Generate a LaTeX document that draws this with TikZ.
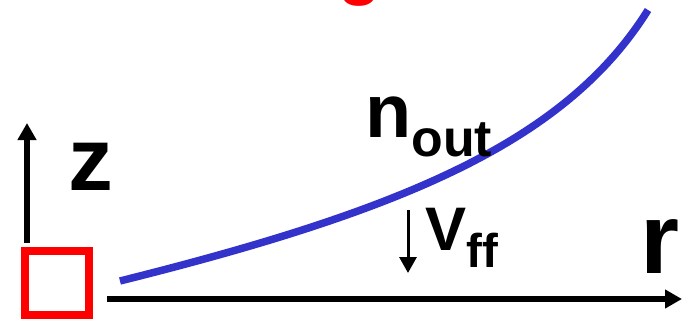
\documentclass[tikz,border=0pt]{standalone}
\usepackage{fontspec}
\setmainfont{Liberation Sans}
\usepackage{xcolor}
\usepackage{tikz}
\usetikzlibrary{positioning,calc}
\usetikzlibrary{arrows.meta}

\definecolor{curveblue}{RGB}{51,51,204}
\tikzset{
  axis/.style={black, line width=0.12cm, -{Triangle[length=0.34cm,width=0.36cm]}},
  flow/.style={black, line width=0.06cm, -{Triangle[length=0.32cm,width=0.34cm]}},
  biglabel/.style={inner sep=0pt, font=\bfseries},
}

\begin{document}
\begin{tikzpicture}
  \useasboundingbox (0,0) rectangle (13.64,6.4);
  % cut-off title above the frame
  \node[biglabel, text=red, anchor=base, font=\bfseries\fontsize{40}{40}\selectfont] (title) at (7.2,6.58) {g};
  % source box
  \node[draw=red, line width=0.16cm, minimum size=1.28cm, inner sep=0pt] (src) at (1.14,0.74) {};
  % axes
  \coordinate (zfoot) at (0.54,1.54);
  \coordinate (ztip) at (0.54,3.94);
  \coordinate (rfoot) at (2.14,0.42);
  \coordinate (rtip) at (13.64,0.42);
  \draw[axis] (zfoot) -- (ztip);
  \draw[axis] (rfoot) -- (rtip);
  \node[biglabel, anchor=base, font=\bfseries\fontsize{51}{51}\selectfont] (zlab) at (1.81,2.6) {z};
  \node[biglabel, anchor=base, font=\bfseries\fontsize{57}{57}\selectfont] (rlab) at (13.19,0.94) {r};
  % outflow boundary
  \coordinate (cstart) at (2.4,0.78);
  \coordinate (cend) at (12.96,6.2);
  \draw[curveblue, line width=0.15cm] (cstart) .. controls (8.0,2.18) and (11.3,3.54) .. (cend);
  \node[biglabel, anchor=base west] (nout) at (7.3,3.66)
    {\fontsize{43}{43}\selectfont n\raisebox{-11.3pt}{\fontsize{29.5}{29.5}\selectfont out}};
  % fall velocity
  \coordinate (vtop) at (8.16,2.2);
  \coordinate (vbot) at (8.16,0.94);
  \draw[flow] (vtop) -- (vbot);
  \node[biglabel, anchor=base west] (vff) at (8.5,1.4)
    {\fontsize{35}{35}\selectfont V\raisebox{-10.2pt}{\fontsize{27}{27}\selectfont ff}};
\end{tikzpicture}
\end{document}
